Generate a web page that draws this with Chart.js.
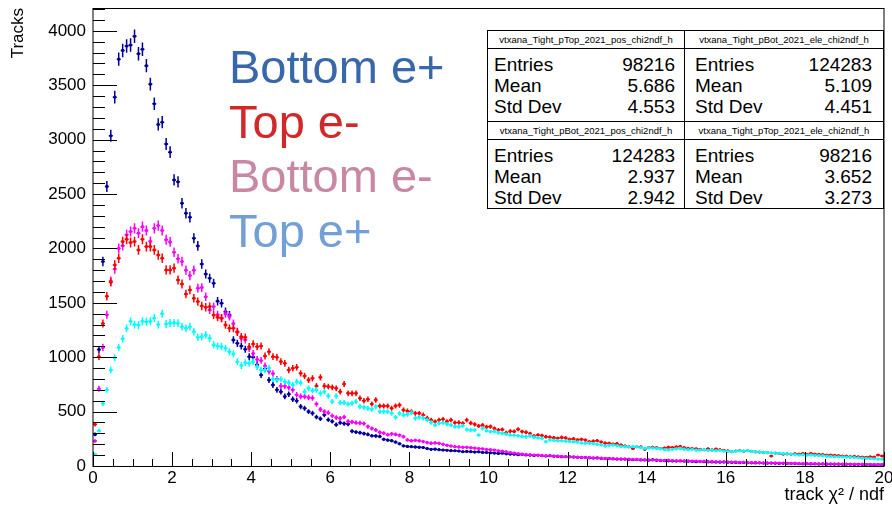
<!DOCTYPE html>
<html>
<head>
<meta charset="utf-8">
<title>track chi2/ndf</title>
<script src="https://cdn.jsdelivr.net/npm/chart.js@4.4.1/dist/chart.umd.min.js"></script>
<style>
body{margin:0;background:#fff;font-family:"Liberation Sans",Arial,sans-serif;}
#wrap{position:relative;width:892px;height:508px;overflow:hidden;}
#plot{position:absolute;left:0;top:0;}
.tag{position:absolute;left:229px;font-size:47px;line-height:46px;white-space:nowrap;}
.stats{position:absolute;border:1px solid #000;background:#fff;box-sizing:border-box;}
.stats .ttl{height:17px;line-height:17px;border-bottom:1px solid #000;font-size:9.5px;text-align:center;white-space:nowrap;}
.stats .rows{padding-top:5px;}
.stats .row{display:flex;justify-content:space-between;height:21px;line-height:21px;font-size:19px;}
</style>
</head>
<body>
<div id="wrap">
<canvas id="plot" width="892" height="508"></canvas>
</div>
<script>
// binning of the chi2/ndf histograms
const nBins = 200, xMin = 0, xMax = 20;
const binWidth = (xMax - xMin) / nBins;
const yMax = 4210;

// labelled ticks
const xTickVals = [0, 2, 4, 6, 8, 10, 12, 14, 16, 18, 20];
const yTickVals = [0, 500, 1000, 1500, 2000, 2500, 3000, 3500, 4000];

// bin contents, 0.1 wide bins from 0 to 20
const bottomPos = [
290,1070,1880,2570,3035,3390,3740,3820,3860,3870,
3950,3790,3830,3680,3510,3330,3140,3160,2960,2885,
2630,2612,2415,2323,2286,2093,2023,1857,1765,1726,
1680,1515,1496,1419,1388,1159,1128,1103,1073,1005,
1000,930,837,895,790,745,700,683,640,660,
613,600,546,530,500,485,450,435,470,425,
410,380,398,390,385,320,312,306,298,290,
278,276,272,245,238,233,220,205,185,180,
178,175,172,170,160,153,155,150,147,145,
141,140,138,132,134,132,128,130,125,124,
122,119,116,118,112,110,108,104,106,101,
100,97,99,94,92,95,90,88,86,85,
84,82,80,78,79,75,73,74,70,68,
69,66,64,62,63,60,58,59,56,55,
54,58,52,50,49,48,47,45,46,44,
43,42,40,41,39,38,37,36,35,36,
34,33,32,31,32,30,29,28,29,27,
26,27,25,24,25,23,22,23,21,20,
21,19,20,18,19,17,18,16,17,15,
16,15,14,15,13,14,13,12,13,12
];

const topEle = [
383,1005,1310,1560,1690,1848,1910,2063,2084,2054,
2063,1986,2084,2017,2017,1986,1940,1910,1802,1802,
1818,1710,1673,1581,1618,1542,1511,1471,1459,1465,
1388,1367,1358,1297,1266,1266,1230,1189,1183,1097,
1122,1097,1103,1011,1051,1005,1000,960,944,883,
898,907,852,828,791,806,736,815,736,730,
723,714,683,754,668,668,668,622,600,613,
570,607,552,552,552,530,552,560,515,505,
500,484,484,469,440,423,408,423,429,410,
423,398,400,392,423,395,383,368,375,360,
362,345,331,335,306,320,318,337,316,310,
298,276,285,280,270,265,260,254,263,258,
245,250,240,245,238,224,228,233,220,210,
208,202,205,192,184,178,162,178,175,153,
170,172,168,160,165,172,170,175,180,168,
162,160,158,153,150,158,148,156,150,145,
140,132,138,142,136,141,135,130,128,125,
123,92,118,115,110,112,108,113,110,115,
108,116,110,106,105,100,101,98,95,92,
90,86,88,85,82,80,84,82,101,92
];

const bottomEle = [
230,710,1090,1390,1700,1810,2000,2025,2125,2155,
2185,2140,2200,2165,2065,2185,2210,2165,2080,2060,
1965,1905,1880,1800,1750,1800,1635,1640,1555,1435,
1465,1390,1360,1400,1375,1310,1235,1175,1160,1080,
1035,980,970,920,870,850,800,735,735,722,
700,655,640,638,630,625,570,520,500,490,
462,445,438,450,410,405,398,395,390,362,
345,330,310,302,288,296,290,282,270,240,
233,236,232,225,215,210,212,208,200,190,
184,178,175,172,172,168,165,160,158,152,
150,146,140,136,131,124,119,114,110,106,
104,101,100,97,95,96,92,90,89,87,
85,84,82,80,78,79,76,74,72,70,
71,68,66,65,64,63,62,60,59,58,
57,55,56,53,52,54,50,49,50,47,
47,45,46,43,44,41,42,40,39,40,
37,36,37,34,35,33,32,33,31,30,
30,28,29,27,27,26,25,26,24,23,
24,22,22,21,21,20,20,19,19,18,
18,17,17,16,17,15,16,15,14,15
];

const topPos = [
107,324,575,700,882,995,1090,1170,1265,1330,
1300,1296,1330,1326,1330,1360,1300,1400,1305,1314,
1316,1312,1281,1266,1281,1235,1183,1189,1205,1174,
1113,1103,1097,1082,1051,1030,959,923,950,944,
959,913,883,883,900,800,791,797,775,766,
745,775,766,683,714,693,699,668,683,644,
592,644,582,582,570,576,592,546,539,530,
521,546,500,500,500,484,447,484,469,475,
490,438,447,440,423,400,377,392,398,385,
377,362,362,370,335,331,330,285,346,325,
316,318,306,300,292,285,282,278,272,270,
276,265,260,255,224,240,236,233,232,228,
226,224,220,212,208,210,206,200,195,184,
190,193,186,180,178,176,180,178,170,162,
166,165,162,158,150,147,153,158,162,155,
150,153,146,147,150,144,146,141,145,138,
135,132,136,140,138,141,134,130,128,126,
123,120,118,117,116,112,110,106,101,104,
100,102,98,96,95,90,88,86,85,83,
82,80,78,76,72,70,68,66,64,62
];

// big coloured labels
const tagNames = ["Bottom e+", "Top e-", "Bottom e-", "Top e+"];
const tagColors = ["#3867aa", "#d22828", "#c888a4", "#72a0d6"];

// stats boxes
const statTitles = [
  "vtxana_Tight_pTop_2021_pos_chi2ndf_h",
  "vtxana_Tight_pBot_2021_ele_chi2ndf_h",
  "vtxana_Tight_pBot_2021_pos_chi2ndf_h",
  "vtxana_Tight_pTop_2021_ele_chi2ndf_h"
];
const statEntries = ["98216", "124283", "124283", "98216"];
const statMeans = ["5.686", "5.109", "2.937", "3.652"];
const statStdDevs = ["4.553", "4.451", "2.942", "3.273"];

const wrap = document.getElementById("wrap");

// stat box placement: left, top, width, height
const statBoxes = [[487,30,198,92],[684,30,200,92],[487,121,198,88],[684,121,200,88]];
statBoxes.forEach((b, i) => {
  let d = document.createElement("div");
  d.className = "stats";
  d.style.left = b[0] + "px"; d.style.top = b[1] + "px";
  d.style.width = b[2] + "px"; d.style.height = b[3] + "px";
  let pad = i % 2 === 0 ? "0 9px 0 6px" : "0 11px 0 10px";
  d.innerHTML = `<div class="ttl">${statTitles[i]}</div><div class="rows">
<div class="row" style="padding:${pad}"><span>Entries</span><span>${statEntries[i]}</span></div>
<div class="row" style="padding:${pad}"><span>Mean</span><span>${statMeans[i]}</span></div>
<div class="row" style="padding:${pad}"><span>Std Dev</span><span>${statStdDevs[i]}</span></div></div>`;
  wrap.appendChild(d);
});

tagNames.forEach((t, i) => {
  let d = document.createElement("div");
  d.className = "tag";
  d.style.top = (44 + i * 54.5) + "px";
  d.style.color = tagColors[i];
  d.textContent = t;
  wrap.appendChild(d);
});

function points(vals){
  return vals.map((v, i) => ({x: xMin + (i + 0.5) * binWidth, y: v}));
}

/* ERROR BARS: sqrt(N) vertical, bin width horizontal */
const errorBars = {
  id: "errorBars",
  beforeDatasetDraw(chart, args){
    const ctx = chart.ctx, xs = chart.scales.x, ys = chart.scales.y;
    const ds = chart.data.datasets[args.index];
    ctx.save();
    ctx.strokeStyle = ds.borderColor;
    ctx.lineWidth = 1.5;
    ctx.beginPath();
    ds.data.forEach(p => {
      let err = Math.sqrt(p.y);
      let px = xs.getPixelForValue(p.x), py = ys.getPixelForValue(p.y);
      ctx.moveTo(px, ys.getPixelForValue(p.y + err));
      ctx.lineTo(px, ys.getPixelForValue(Math.max(p.y - err, 0)));
      ctx.moveTo(xs.getPixelForValue(p.x - binWidth / 2), py);
      ctx.lineTo(xs.getPixelForValue(p.x + binWidth / 2), py);
    });
    ctx.stroke();
    ctx.restore();
  }
};

/* FRAME + inward ticks */
const frame = {
  id: "frame",
  afterDatasetsDraw(chart){
    const {ctx, chartArea: a, scales: {x, y}} = chart;
    ctx.save();
    ctx.strokeStyle = "#000";
    ctx.lineWidth = 1;
    ctx.beginPath();
    for (let v = 0; v <= yMax; v += 100) {
      let py = Math.round(y.getPixelForValue(v)) + 0.5;
      let len = v % 500 === 0 ? 24 : 12;
      ctx.moveTo(a.left, py); ctx.lineTo(a.left + len, py);
    }
    for (let v = xMin; v <= xMax; v += 0.5) {
      let px = Math.round(x.getPixelForValue(v)) + 0.5;
      let len = v % 2 === 0 ? 14 : 7;
      ctx.moveTo(px, a.bottom); ctx.lineTo(px, a.bottom - len);
    }
    ctx.stroke();
    ctx.strokeRect(a.left, a.top + 0.5, a.right - a.left, a.bottom - a.top);
    ctx.restore();
  }
};

const font = {family: "'Liberation Sans', Arial, sans-serif", size: 17};
const plain = v => String(v);

new Chart(document.getElementById("plot"), {
  type: "scatter",
  data: {
    datasets: [
      {label: "Top e+", data: points(topPos), borderColor: "#00ffff", backgroundColor: "#00ffff"},
      {label: "Top e-", data: points(topEle), borderColor: "#ff0000", backgroundColor: "#ff0000"},
      {label: "Bottom e-", data: points(bottomEle), borderColor: "#ff00ff", backgroundColor: "#ff00ff"},
      {label: "Bottom e+", data: points(bottomPos), borderColor: "#000099", backgroundColor: "#000099"}
    ]
  },
  options: {
    responsive: false,
    animation: false,
    devicePixelRatio: 1,
    layout: {padding: {top: 8, right: 8, left: 0, bottom: 0}},
    elements: {point: {radius: 1.6, borderWidth: 0, hoverRadius: 1.6}},
    plugins: {legend: {display: false}, tooltip: {enabled: false}},
    scales: {
      x: {
        type: "linear", min: xMin, max: xMax,
        grid: {display: false, drawTicks: false},
        border: {display: false},
        ticks: {padding: 2, color: "#000", font, maxRotation: 0, autoSkip: false, callback: plain},
        afterBuildTicks(s){ s.ticks = xTickVals.map(v => ({value: v})); },
        title: {display: true, text: "track χ² / ndf", align: "end", color: "#000", font: {family: font.family, size: 18}, padding: {top: 0, bottom: 2}},
        afterFit(s){ s.height = 42; s.paddingLeft = 0; s.paddingRight = 0; }
      },
      y: {
        type: "linear", min: 0, max: yMax,
        grid: {display: false, drawTicks: false},
        border: {display: false},
        ticks: {padding: 7, color: "#000", font, callback: plain},
        afterBuildTicks(s){ s.ticks = yTickVals.map(v => ({value: v})); },
        title: {display: true, text: "Tracks", align: "end", color: "#000", font: {family: font.family, size: 17}, padding: {top: 8, bottom: 0}},
        afterFit(s){ s.width = 93; s.paddingTop = 0; s.paddingBottom = 0; }
      }
    }
  },
  plugins: [errorBars, frame]
});
</script>
</body>
</html>
